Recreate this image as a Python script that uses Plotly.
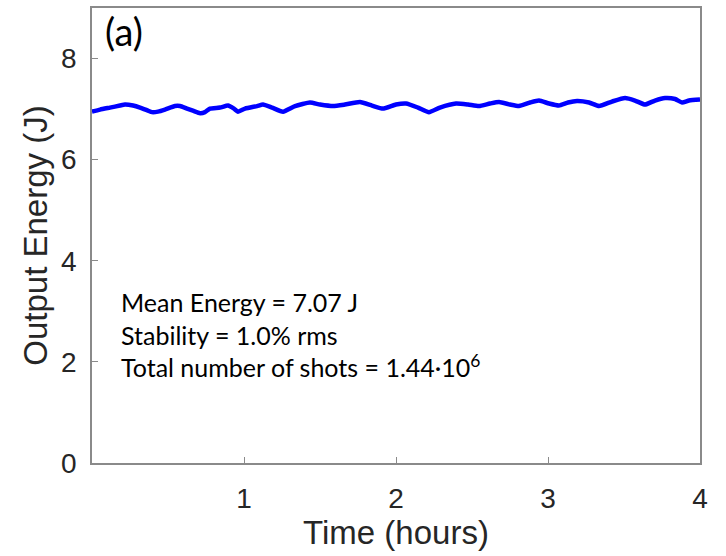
import plotly.graph_objects as go

# Time (hours) and output energy (J)
time_h = [0.000, 0.053, 0.118, 0.184, 0.217, 0.270, 0.316, 0.368, 0.395, 0.434,
          0.480, 0.546, 0.579, 0.625, 0.664, 0.711, 0.743, 0.776, 0.842, 0.895,
          0.934, 0.961, 1.007, 1.086, 1.125, 1.184, 1.257, 1.336, 1.434, 1.500,
          1.586, 1.664, 1.763, 1.842, 1.914, 2.000, 2.066, 2.145, 2.217, 2.289,
          2.395, 2.474, 2.546, 2.618, 2.678, 2.750, 2.809, 2.882, 2.941, 3.007,
          3.072, 3.132, 3.191, 3.270, 3.336, 3.421, 3.507, 3.572, 3.638, 3.704,
          3.770, 3.836, 3.882, 3.928, 4.000]
energy_j = [6.95, 6.99, 7.03, 7.07, 7.09, 7.07, 7.03, 6.97, 6.94, 6.95,
            6.99, 7.06, 7.06, 7.01, 6.97, 6.92, 6.94, 7.01, 7.03, 7.07,
            7.01, 6.95, 7.01, 7.06, 7.09, 7.03, 6.95, 7.06, 7.13, 7.09,
            7.06, 7.09, 7.14, 7.07, 7.01, 7.09, 7.11, 7.03, 6.94, 7.03,
            7.11, 7.09, 7.06, 7.11, 7.14, 7.09, 7.06, 7.13, 7.17, 7.11,
            7.07, 7.13, 7.16, 7.13, 7.06, 7.15, 7.22, 7.17, 7.09, 7.17,
            7.22, 7.20, 7.13, 7.17, 7.19]

x_ticks = [1, 2, 3, 4]
y_ticks = [0, 2, 4, 6, 8]

stats_lines = ["Mean Energy = 7.07 J",
               "Stability = 1.0% rms",
               "Total number of shots = 1.44·10<sup>6</sup>"]
panel_label = "(a)"

fig = go.Figure()
fig.add_trace(go.Scatter(x=time_h, y=energy_j, mode="lines",
                         line=dict(color="#0000FF", width=4.5, shape="spline", smoothing=0.5),
                         showlegend=False))

axis_font = "Liberation Sans, Arial"
axis_common = dict(showgrid=False, zeroline=False, showline=True, mirror=True,
                   linecolor="#8a8a8a", linewidth=1.5, ticks="inside", ticklen=6,
                   tickcolor="#8a8a8a", tickwidth=1,
                   tickfont=dict(family=axis_font, size=28, color="#262626"))

fig.update_xaxes(range=[0, 4], tickvals=x_ticks, ticktext=[str(v) for v in x_ticks],
                 ticklabelstandoff=10,
                 title=dict(text="Time (hours)", font=dict(family=axis_font, size=33, color="#262626"), standoff=2),
                 **axis_common)
fig.update_yaxes(range=[0, 9], tickvals=y_ticks, ticktext=[str(v) for v in y_ticks],
                 ticklabelstandoff=8,
                 title=dict(text="Output Energy (J)", font=dict(family=axis_font, size=33, color="#262626"), standoff=4),
                 **axis_common)

fig.add_annotation(x=0.07, y=8.55, xref="x", yref="y", text=panel_label, showarrow=False,
                   xanchor="left", yanchor="middle",
                   font=dict(family="Lato, Open Sans", size=38, color="#000000"))
fig.add_annotation(x=0.18, y=2.55, xref="x", yref="y", text="<br>".join(stats_lines),
                   showarrow=False, xanchor="left", yanchor="middle", align="left",
                   font=dict(family="Lato, Open Sans", size=25, color="#000000"))

fig.update_layout(width=726, height=556, margin=dict(l=92, r=26, t=6, b=93),
                  plot_bgcolor="white", paper_bgcolor="white")

fig.write_html("out.html", config={"displayModeBar": False},
               post_script="document.body.style.margin='0px';")
